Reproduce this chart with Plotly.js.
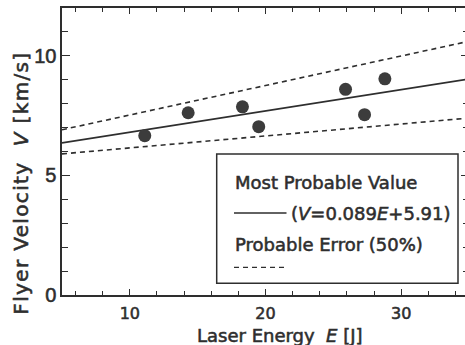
<!DOCTYPE html>
<html>
<head>
<meta charset="utf-8">
<script src="https://cdn.plot.ly/plotly-3.0.1.min.js"></script>
<style>
html, body { margin:0; padding:0; overflow:hidden; background:#fff; }
#chart { width:471px; height:345px; }
#chart text { stroke:#2e2e2e; stroke-width:0.55px; }
.annotation[data-index="0"] text { letter-spacing: 1.35px; }
</style>
</head>
<body>
<div id="chart"></div>
<script>
var energy   = [11.1, 14.3, 18.3, 19.5, 25.9, 27.3, 28.8];
var velocity = [6.66, 7.62, 7.87, 7.04, 8.60, 7.54, 9.04];

// Fit line and probable-error bounds (endpoints)
var lineE     = [5, 35];
var fitV      = [6.36, 9.03];
var upperV    = [6.91, 10.61];
var lowerV    = [5.90, 7.40];

var xTickVals = [10, 20, 30];
var yTickVals = [0, 5, 10];

var ink = '#2e2e2e';

var traces = [
  {x: lineE, y: fitV, mode: 'lines', line: {color: ink, width: 1.6}, hoverinfo: 'skip'},
  {x: lineE, y: upperV, mode: 'lines', line: {color: ink, width: 1.6, dash: '5px,4px'}, hoverinfo: 'skip'},
  {x: lineE, y: lowerV, mode: 'lines', line: {color: ink, width: 1.6, dash: '5px,4px'}, hoverinfo: 'skip'},
  {x: energy, y: velocity, mode: 'markers', marker: {color: '#3c3c3c', size: 13, line: {width: 0}}, cliponaxis: false}
];

var L = 62, W = 407, T = 8, H = 287;
function px(x) { return (x - L) / W; }
function py(y) { return (T + H - y) / H; }

var txtFont = {family: 'DejaVu Sans', size: 18, color: ink};

var layout = {
  width: 471, height: 345,
  margin: {l: L, r: 471 - L - W, t: T, b: 345 - T - H, pad: 0},
  paper_bgcolor: '#fff', plot_bgcolor: '#fff',
  showlegend: false,
  xaxis: {
    range: [5, 35], tickvals: xTickVals, ticktext: xTickVals.map(String),
    ticks: 'inside', ticklen: 6, tickwidth: 1.2, tickcolor: ink,
    minor: {dtick: 2, ticks: 'inside', ticklen: 4, tickwidth: 1, tickcolor: ink},
    showline: true, linecolor: ink, linewidth: 1.6, mirror: 'allticks',
    showgrid: false, zeroline: false,
    tickfont: {family: 'DejaVu Sans', size: 16, color: ink},
    ticklabelstandoff: 3
  },
  yaxis: {
    range: [0, 12], tickvals: yTickVals, ticktext: yTickVals.map(String),
    ticks: 'inside', ticklen: 8, tickwidth: 1.2, tickcolor: ink,
    minor: {dtick: 1, ticks: 'inside', ticklen: 6, tickwidth: 1, tickcolor: ink},
    showline: true, linecolor: ink, linewidth: 1.6, mirror: 'allticks',
    showgrid: false, zeroline: false,
    tickfont: {family: 'Liberation Sans', size: 20, color: ink},
    ticklabelstandoff: 0
  },
  shapes: [
    {type: 'rect', xref: 'paper', yref: 'paper', x0: px(216.7), x1: px(458), y0: py(283.3), y1: py(154),
     line: {color: ink, width: 1.5}, fillcolor: '#fff', layer: 'above'},
    {type: 'line', xref: 'paper', yref: 'paper', x0: px(234), x1: px(286.5), y0: py(213), y1: py(213),
     line: {color: ink, width: 1.5}},
    {type: 'line', xref: 'paper', yref: 'paper', x0: px(234), x1: px(288), y0: py(267.3), y1: py(267.3),
     line: {color: ink, width: 1.3, dash: '5px,4px'}}
  ],
  annotations: [
    {text: 'Flyer Velocity  <i>V</i> [km/s]', textangle: -90, xref: 'paper', yref: 'paper',
     x: px(20), y: py(183.5), xanchor: 'center', yanchor: 'middle', showarrow: false,
     font: {family: 'DejaVu Sans', size: 20, color: ink}},
    {text: 'Laser Energy  <i>E</i> [J]', xref: 'paper', yref: 'paper',
     x: px(279.5), y: py(335), xanchor: 'center', yanchor: 'middle', showarrow: false,
     font: {family: 'DejaVu Sans', size: 18, color: ink}},
    {text: 'Most Probable Value', xref: 'paper', yref: 'paper', x: px(233), y: py(182),
     xanchor: 'left', yanchor: 'middle', showarrow: false, font: txtFont},
    {text: '(<i>V</i>=0.089<i>E</i>+5.91)', xref: 'paper', yref: 'paper', x: px(289), y: py(213),
     xanchor: 'left', yanchor: 'middle', showarrow: false, font: txtFont},
    {text: 'Probable Error (50%)', xref: 'paper', yref: 'paper', x: px(233), y: py(244),
     xanchor: 'left', yanchor: 'middle', showarrow: false, font: txtFont}
  ]
};

Plotly.newPlot('chart', traces, layout, {displayModeBar: false, staticPlot: true});
</script>
</body>
</html>
